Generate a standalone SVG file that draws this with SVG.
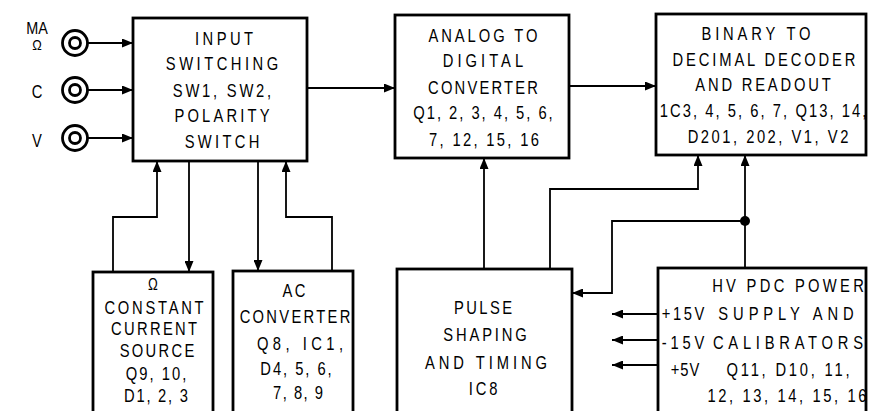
<svg xmlns="http://www.w3.org/2000/svg" width="869" height="411" viewBox="0 0 869 411">
<defs>
<marker id="ah" markerUnits="userSpaceOnUse" markerWidth="12" markerHeight="9" refX="11" refY="4.5" orient="auto">
<path d="M0,0 L11,4.5 L0,9 Z" fill="#000"/>
</marker>
<style>
.box{fill:#fff;stroke:#000;stroke-width:2.8}
.ln{fill:none;stroke:#000;stroke-width:1.8}
text{font-family:"Liberation Sans",Arial,sans-serif;font-size:18px;fill:#000;text-anchor:middle;dominant-baseline:central}
.jk{fill:none;stroke:#000;stroke-width:2.8}
</style>
</defs>
<rect width="869" height="411" fill="#fff"/>

<g id="jacks">
<circle class="jk" cx="75" cy="43" r="12.5"/><circle class="jk" cx="75" cy="43" r="5.5"/>
<circle class="jk" cx="75" cy="90" r="12.5"/><circle class="jk" cx="75" cy="90" r="5.5"/>
<circle class="jk" cx="75" cy="138" r="12.5"/><circle class="jk" cx="75" cy="138" r="5.5"/>
<text transform="translate(37 28) scale(.9 1)" style="font-size:16px">MA</text>
<text transform="translate(37 45) scale(.85 1)" style="font-size:15px">Ω</text>
<text transform="translate(37 91) scale(.82 1)">C</text>
<text transform="translate(37 140) scale(.82 1)">V</text>
</g>

<g id="input-switching">
<rect class="box" x="133" y="18" width="174" height="143"/>
<text transform="translate(224 38) scale(.82 1)" textLength="71" lengthAdjust="spacing">INPUT</text>
<text transform="translate(222 63) scale(.82 1)" textLength="137" lengthAdjust="spacing">SWITCHING</text>
<text transform="translate(222 90) scale(.82 1)" textLength="120" lengthAdjust="spacing">SW1, SW2,</text>
<text transform="translate(222 115) scale(.82 1)" textLength="116" lengthAdjust="spacing">POLARITY</text>
<text transform="translate(222 141) scale(.82 1)" textLength="91" lengthAdjust="spacing">SWITCH</text>
</g>

<g id="adc">
<rect class="box" x="395" y="15" width="174" height="143"/>
<text transform="translate(483 35) scale(.82 1)" textLength="133" lengthAdjust="spacing">ANALOG TO</text>
<text transform="translate(483 60) scale(.82 1)" textLength="98" lengthAdjust="spacing">DIGITAL</text>
<text transform="translate(483 87) scale(.82 1)" textLength="134" lengthAdjust="spacing">CONVERTER</text>
<text transform="translate(483 112) scale(.82 1)" textLength="170" lengthAdjust="spacing">Q1, 2, 3, 4, 5, 6,</text>
<text transform="translate(484 139) scale(.82 1)" textLength="134" lengthAdjust="spacing">7, 12, 15, 16</text>
</g>

<g id="bcd-decoder">
<rect class="box" x="656" y="14" width="210" height="141"/>
<text transform="translate(756 33) scale(.82 1)" textLength="133" lengthAdjust="spacing">BINARY TO</text>
<text transform="translate(764 59) scale(.82 1)" textLength="223" lengthAdjust="spacing">DECIMAL DECODER</text>
<text transform="translate(763 84) scale(.82 1)" textLength="165" lengthAdjust="spacing">AND READOUT</text>
<text transform="translate(763 110) scale(.82 1)" textLength="252" lengthAdjust="spacing">1C3, 4, 5, 6, 7, Q13, 14,</text>
<text transform="translate(768 136) scale(.82 1)" textLength="196" lengthAdjust="spacing">D201, 202, V1, V2</text>
</g>

<g id="ohm-source">
<rect class="box" x="93" y="272" width="120" height="150"/>
<text transform="translate(153 285) scale(.82 1)" style="font-size:16px">Ω</text>
<text transform="translate(154 307) scale(.82 1)" textLength="121" lengthAdjust="spacing">CONSTANT</text>
<text transform="translate(154 328) scale(.82 1)" textLength="105" lengthAdjust="spacing">CURRENT</text>
<text transform="translate(157 350) scale(.82 1)" textLength="91" lengthAdjust="spacing">SOURCE</text>
<text transform="translate(156 373) scale(.82 1)" textLength="74" lengthAdjust="spacing">Q9, 10,</text>
<text transform="translate(156 395) scale(.82 1)" textLength="78" lengthAdjust="spacing">D1, 2, 3</text>
</g>

<g id="ac-converter">
<rect class="box" x="233" y="271" width="120" height="150"/>
<text transform="translate(294 290) scale(.82 1)" textLength="28" lengthAdjust="spacing">AC</text>
<text transform="translate(295 316) scale(.82 1)" textLength="135" lengthAdjust="spacing">CONVERTER</text>
<text transform="translate(300 343) scale(.82 1)" textLength="105" lengthAdjust="spacing">Q8, IC1,</text>
<text transform="translate(296 368) scale(.82 1)" textLength="87" lengthAdjust="spacing">D4, 5, 6,</text>
<text transform="translate(298 392) scale(.82 1)" textLength="61" lengthAdjust="spacing">7, 8, 9</text>
</g>

<g id="pulse-shaping">
<rect class="box" x="397" y="269" width="175" height="152"/>
<text transform="translate(483 307) scale(.82 1)" textLength="71" lengthAdjust="spacing">PULSE</text>
<text transform="translate(485 334) scale(.82 1)" textLength="102" lengthAdjust="spacing">SHAPING</text>
<text transform="translate(486 362) scale(.82 1)" textLength="149" lengthAdjust="spacing">AND TIMING</text>
<text transform="translate(483 388) scale(.82 1)" textLength="35" lengthAdjust="spacing">IC8</text>
</g>

<g id="power-supply">
<rect class="box" x="658" y="268" width="208" height="153"/>
<text transform="translate(788 285) scale(.82 1)" textLength="185" lengthAdjust="spacing">HV PDC  POWER</text>
<text transform="translate(786 313) scale(.82 1)" textLength="165" lengthAdjust="spacing">SUPPLY AND</text>
<text transform="translate(788 342) scale(.82 1)" textLength="183" lengthAdjust="spacing">CALIBRATORS</text>
<text transform="translate(788 369) scale(.82 1)" textLength="150" lengthAdjust="spacing">Q11, D10, 11,</text>
<text transform="translate(787 395) scale(.82 1)" textLength="194" lengthAdjust="spacing">12, 13, 14, 15, 16</text>
<text transform="translate(683 313) scale(.82 1)" textLength="52" lengthAdjust="spacing">+15V</text>
<text transform="translate(683 342) scale(.82 1)" textLength="52" lengthAdjust="spacing">-15V</text>
<text transform="translate(685 369) scale(.82 1)" textLength="35" lengthAdjust="spacing">+5V</text>
</g>

<g id="connectors">
<path class="ln" d="M88,43 H133" marker-end="url(#ah)"/>
<path class="ln" d="M88,90 H133" marker-end="url(#ah)"/>
<path class="ln" d="M88,138 H133" marker-end="url(#ah)"/>
<path class="ln" d="M307,88 H395" marker-end="url(#ah)"/>
<path class="ln" d="M569,86 H656" marker-end="url(#ah)"/>
<path class="ln" d="M484,269 V158" marker-end="url(#ah)"/>
<path class="ln" d="M550,269 V189 H698 V155" marker-end="url(#ah)"/>
<path class="ln" d="M745,268 V155" marker-end="url(#ah)"/>
<path class="ln" d="M745,221 H612 V293 H572" marker-end="url(#ah)"/>
<circle cx="745" cy="221" r="5" fill="#000"/>
<path class="ln" d="M113,272 V217 H157 V161" marker-end="url(#ah)"/>
<path class="ln" d="M189,161 V272" marker-end="url(#ah)"/>
<path class="ln" d="M258,161 V271" marker-end="url(#ah)"/>
<path class="ln" d="M332,271 V217 H286 V161" marker-end="url(#ah)"/>
<path class="ln" d="M658,314 H612" marker-end="url(#ah)"/>
<path class="ln" d="M658,340 H612" marker-end="url(#ah)"/>
<path class="ln" d="M658,365 H612" marker-end="url(#ah)"/>
</g>
</svg>
